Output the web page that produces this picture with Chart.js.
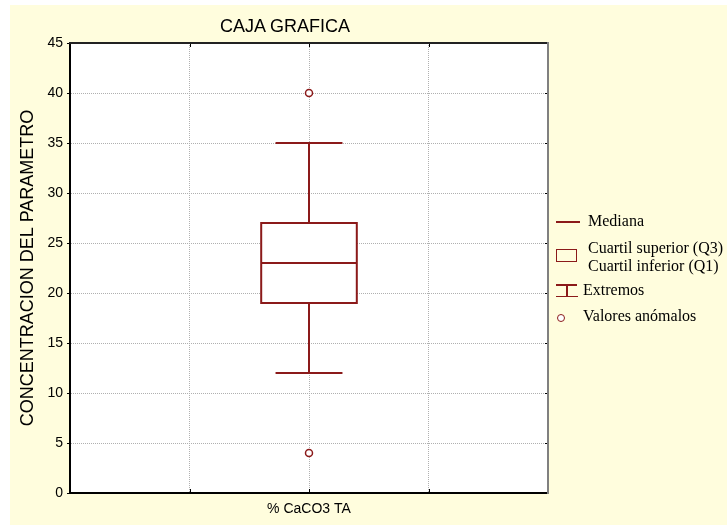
<!DOCTYPE html>
<html>
<head>
<meta charset="utf-8">
<title>CAJA GRAFICA</title>
<script src="https://cdn.jsdelivr.net/npm/chart.js@4.4.1/dist/chart.umd.min.js"></script>
<style>
  html, body { margin: 0; padding: 0; background: #fff; }
  #wrap { position: relative; width: 727px; height: 525px; overflow: hidden; }
  #bg { position: absolute; left: 10px; top: 5px; right: 0; bottom: 0; background: #fffddd; }
  #box-chart { position: absolute; left: 0; top: 0; }
  #title {
    position: absolute; left: 185px; top: 15px; width: 200px; text-align: center;
    font: 18px/22px 'Liberation Sans', Arial, sans-serif; color: #000;
  }
  .lg {
    position: absolute; left: 588px; white-space: nowrap; color: #000;
    font: 16px/18px 'Liberation Serif', 'Times New Roman', serif;
  }
  .ic { position: absolute; background: #8b1a1a; }
</style>
</head>
<body>
<div id="wrap">
  <div id="bg"></div>
  <canvas id="box-chart" width="727" height="525"></canvas>
  <div id="title">CAJA GRAFICA</div>

  <!-- leyenda -->
  <div class="ic" style="left:556px; top:221px; width:24px; height:1.5px;"></div>
  <div class="lg" style="top:212px;">Mediana</div>

  <div style="position:absolute; left:556px; top:249px; width:19px; height:11px; border:1.5px solid #8b1a1a;"></div>
  <div class="lg" style="top:239px;">Cuartil superior (Q3)</div>
  <div class="lg" style="top:257px;">Cuartil inferior (Q1)</div>

  <div class="ic" style="left:556px; top:284px; width:21px; height:1.5px;"></div>
  <div class="ic" style="left:566px; top:284px; width:1.5px; height:12px;"></div>
  <div class="ic" style="left:556px; top:295.5px; width:22px; height:1.5px;"></div>
  <div class="lg" style="left:583px; top:281px;">Extremos</div>

  <div style="position:absolute; left:557px; top:314px; width:6px; height:6px; border:1.5px solid #8b1a1a; border-radius:50%; background:#fff;"></div>
  <div class="lg" style="left:583px; top:307px;">Valores anómalos</div>
</div>

<script>
// datos de la caja
const categories = ['% CaCO3 TA'];
const categoryPos = [2];
const q1 = [19];
const medians = [23];
const q3 = [27];
const whiskerLow = [12];
const whiskerHigh = [35];
const outliers = [[40, 4]];

const yTicks = [0, 5, 10, 15, 20, 25, 30, 35, 40, 45];

const boxColor = '#8b1a1a';

// fondo blanco del area del grafico
const plotBackground = {
  id: 'plotBackground',
  beforeDraw(chart) {
    const { ctx, chartArea: a } = chart;
    ctx.save();
    ctx.fillStyle = '#fff';
    ctx.fillRect(a.left, a.top, a.right - a.left, a.bottom - a.top);
    ctx.restore();
  }
};

// caja, mediana y bigotes
const boxPlot = {
  id: 'boxPlot',
  beforeDatasetsDraw(chart) {
    const { ctx, scales: { x, y } } = chart;
    ctx.save();
    ctx.strokeStyle = boxColor;
    ctx.lineWidth = 2;
    categoryPos.forEach((pos, i) => {
      const cx = x.getPixelForValue(pos);
      const bl = x.getPixelForValue(pos - 0.4);
      const br = x.getPixelForValue(pos + 0.4);
      const cl = x.getPixelForValue(pos - 0.28);
      const cr = x.getPixelForValue(pos + 0.28);
      const yq1 = y.getPixelForValue(q1[i]);
      const yq3 = y.getPixelForValue(q3[i]);
      const ymed = y.getPixelForValue(medians[i]);
      const ylo = y.getPixelForValue(whiskerLow[i]);
      const yhi = y.getPixelForValue(whiskerHigh[i]);

      ctx.beginPath();
      ctx.moveTo(cx, yq3); ctx.lineTo(cx, yhi);
      ctx.moveTo(cl, yhi); ctx.lineTo(cr, yhi);
      ctx.moveTo(cx, yq1); ctx.lineTo(cx, ylo);
      ctx.moveTo(cl, ylo); ctx.lineTo(cr, ylo);
      ctx.stroke();

      ctx.fillStyle = '#fff';
      ctx.fillRect(bl, yq3, br - bl, yq1 - yq3);
      ctx.strokeRect(bl, yq3, br - bl, yq1 - yq3);

      ctx.beginPath();
      ctx.moveTo(bl, ymed); ctx.lineTo(br, ymed);
      ctx.stroke();
    });
    ctx.restore();
  }
};

// marco superior/derecho y marcas interiores
const frame = {
  id: 'frame',
  afterDraw(chart) {
    const { ctx, chartArea: a, scales: { x, y } } = chart;
    ctx.save();
    ctx.lineWidth = 1;
    ctx.strokeStyle = '#000';
    ctx.beginPath();
    [1, 2, 3].forEach(v => {
      const px = Math.round(x.getPixelForValue(v)) + 0.5;
      ctx.moveTo(px, a.bottom); ctx.lineTo(px, a.bottom - 4);
      ctx.moveTo(px, a.top); ctx.lineTo(px, a.top + 4);
    });
    yTicks.slice(1, -1).forEach(v => {
      const py = Math.round(y.getPixelForValue(v)) + 0.5;
      ctx.moveTo(a.right, py); ctx.lineTo(a.right - 3, py);
    });
    ctx.stroke();

    ctx.lineWidth = 2;
    ctx.strokeStyle = '#222';
    ctx.beginPath();
    ctx.moveTo(a.left - 1, a.top); ctx.lineTo(a.right, a.top);
    ctx.stroke();
    ctx.strokeStyle = '#808080';
    ctx.beginPath();
    ctx.moveTo(a.right, a.top - 1); ctx.lineTo(a.right, a.bottom + 1);
    ctx.stroke();
    ctx.restore();
  }
};

const dataBox = {
  datasets: [{
    label: 'Valores anómalos',
    type: 'scatter',
    data: outliers.flatMap((vals, i) => vals.map(v => ({ x: categoryPos[i], y: v }))),
    pointRadius: 3.5,
    pointBorderWidth: 1.5,
    pointBorderColor: boxColor,
    pointBackgroundColor: '#fff'
  }]
};

const configBox = {
  type: 'scatter',
  data: dataBox,
  options: {
    responsive: false,
    animation: false,
    devicePixelRatio: 1,
    layout: { padding: { top: 43, right: 179, left: 0, bottom: 0 } },
    plugins: {
      legend: { display: false },
      tooltip: { enabled: false }
    },
    scales: {
      x: {
        type: 'linear',
        min: 0,
        max: 4,
        afterFit(scale) { scale.height = 32; },
        afterBuildTicks(scale) { scale.ticks = [0, 1, 2, 3, 4].map(v => ({ value: v })); },
        ticks: {
          padding: 8,
          maxRotation: 0,
          autoSkip: false,
          color: '#000',
          font: { family: "'Liberation Sans', Arial, sans-serif", size: 14 },
          callback: v => {
            const i = categoryPos.indexOf(v);
            return i >= 0 ? categories[i] : '';
          }
        },
        grid: {
          color: '#b0b0b0',
          lineWidth: 1,
          drawTicks: false
        },
        // en v4 "dash" del borde se aplica a las lineas de rejilla
        border: { color: '#000', width: 2, dash: [1, 1] }
      },
      y: {
        min: 0,
        max: 45,
        afterFit(scale) { scale.width = 70; },
        afterBuildTicks(scale) { scale.ticks = yTicks.map(v => ({ value: v })); },
        ticks: {
          padding: 4,
          color: '#000',
          font: { family: "'Liberation Sans', Arial, sans-serif", size: 14 }
        },
        grid: {
          color: '#b0b0b0',
          lineWidth: 1,
          tickLength: 3,
          tickColor: '#000',
          tickBorderDash: []
        },
        border: { color: '#000', width: 2, dash: [1, 1] },
        title: {
          display: true,
          text: 'CONCENTRACION DEL PARAMETRO',
          color: '#000',
          padding: { top: 17, bottom: 0 },
          font: { family: "'Liberation Sans', Arial, sans-serif", size: 18 }
        }
      }
    }
  },
  plugins: [plotBackground, boxPlot, frame]
};

const ChartBox = new Chart(
  document.getElementById('box-chart'),
  configBox
);
</script>
</body>
</html>
